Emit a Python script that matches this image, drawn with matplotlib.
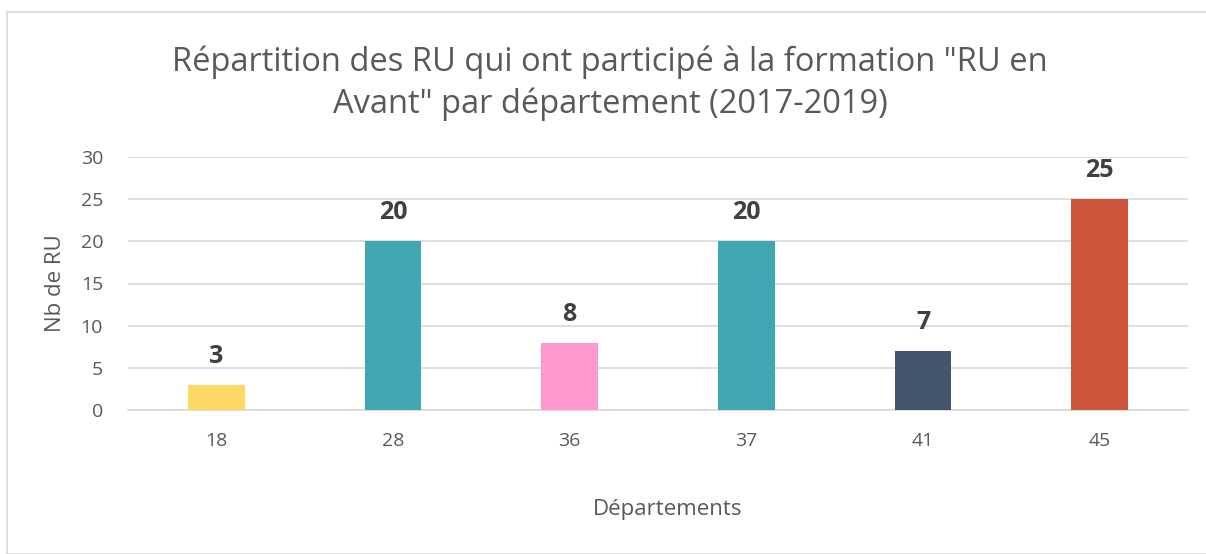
import matplotlib
matplotlib.use("Agg")
import matplotlib.pyplot as plt
from matplotlib.patches import Rectangle

departements = ["18", "28", "36", "37", "41", "45"]
nb_ru = [3, 20, 8, 20, 7, 25]
colors = ["#FDD865", "#3FA6B2", "#FE99CE", "#3FA6B2", "#44546A", "#CC553B"]
yticks = [0, 5, 10, 15, 20, 25, 30]
title = "Répartition des RU qui ont participé à la formation \"RU en\nAvant\" par département (2017-2019)"

plt.rcParams['font.family'] = ['Open Sans', 'DejaVu Sans']

W, H = 1206, 554
fig = plt.figure(figsize=(W/100, H/100), dpi=100)
fig.patches.append(Rectangle((7/W, 0), 1.2, (H-12)/H, transform=fig.transFigure,
                             fill=False, edgecolor="#D9D9D9", linewidth=1.2))

ax = fig.add_axes([128/W, 1-410/H, (1188-128)/W, (410-157)/H])
x = range(len(departements))
ax.bar(x, nb_ru, width=0.32, color=colors, zorder=3)
for xi, v in zip(x, nb_ru):
    ax.text(xi, v + 1.9, str(v), ha="center", va="bottom", fontsize=18,
            fontweight="bold", color="#404040")

ax.set_xlim(-0.5, len(departements) - 0.5)
ax.set_ylim(0, 30)
ax.set_yticks(yticks)
ax.set_xticks(list(x))
ax.set_xticklabels(departements)
ax.tick_params(axis="both", length=0, labelsize=14, labelcolor="#595959")
ax.tick_params(axis="x", pad=16)
ax.tick_params(axis="y", pad=18)
ax.grid(axis="y", color="#D9D9D9", linewidth=1.2, zorder=0)
for s in ["top", "right", "left"]:
    ax.spines[s].set_visible(False)
ax.spines["bottom"].set_color("#D9D9D9")
ax.spines["bottom"].set_linewidth(1.2)

fig.text(56/W, 1-283/H, "Nb de RU", rotation=90, ha="center", va="center",
         fontsize=16, color="#595959")
fig.text(668/W, 1-510/H, "Départements", ha="center", va="center",
         fontsize=16, color="#595959")
fig.text(610/W, 1-83/H, title, ha="center", va="center", fontsize=23.5,
         color="#595959", linespacing=1.35)

fig.savefig("out.png", dpi=100)
